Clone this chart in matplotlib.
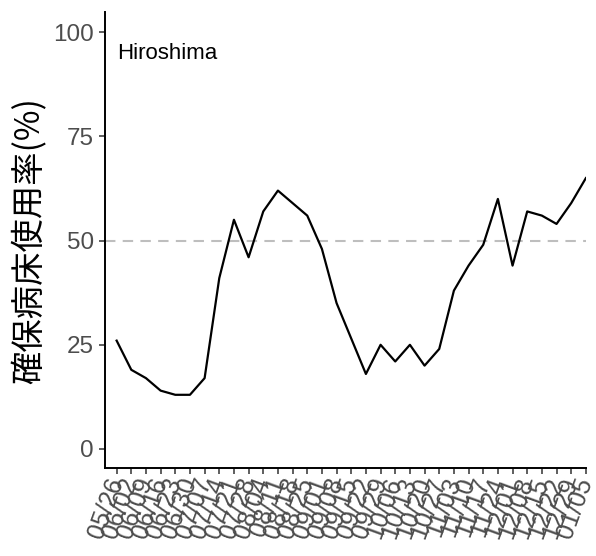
import matplotlib
matplotlib.use("Agg")
import matplotlib.pyplot as plt

# weekly dates and bed occupancy (%) for Hiroshima
fechas = ['05/26', '06/02', '06/09', '06/16', '06/23', '06/30', '07/07', '07/14',
          '07/21', '07/28', '08/04', '08/11', '08/18', '08/25', '09/01', '09/08',
          '09/15', '09/22', '09/29', '10/06', '10/13', '10/20', '10/27', '11/03',
          '11/10', '11/17', '11/24', '12/01', '12/08', '12/15', '12/22', '12/29',
          '01/05']
ocupacion = [26, 19, 17, 14, 13, 13, 17, 41, 55, 46, 57, 62, 59, 56, 48, 35,
             26.5, 18, 25, 21, 25, 20, 24, 38, 44, 49, 60, 44, 57, 56, 54, 59, 65]
umbral = 50
yticks = [0, 25, 50, 75, 100]

plt.rcParams['font.family'] = ['Liberation Sans', 'DejaVu Sans']

fig = plt.figure(figsize=(5.96, 5.56), dpi=100)
ax = fig.add_axes([0.176, 0.158, 0.807, 0.820])

x = list(range(len(ocupacion)))
ax.axhline(umbral, color='#BEBEBE', linestyle=(0, (5, 3.5)), linewidth=1.5, zorder=1)
ax.plot(x, ocupacion, color='black', linewidth=1.6, zorder=2)

ax.set_xlim(-0.8, 32.0)
ax.set_ylim(-4.6, 104.8)
ax.set_xticks(x)
ax.set_xticklabels(fechas, rotation=70, ha='right', va='center',
                   rotation_mode='anchor', fontsize=18, color='#4D4D4D')
ax.set_yticks(yticks)
ax.set_yticklabels([str(v) for v in yticks], fontsize=17.5, color='#4D4D4D')
ax.tick_params(axis='both', length=4.5, width=1.1, color='#333333')
ax.tick_params(axis='x', pad=3)

for lado in ['top', 'right']:
    ax.spines[lado].set_visible(False)
for lado in ['left', 'bottom']:
    ax.spines[lado].set_linewidth(1.4)
    ax.spines[lado].set_color('black')

ax.set_ylabel('確保病床使用率(%)', fontsize=24,
              family=['Noto Sans CJK JP', 'DejaVu Sans'], labelpad=4)
ax.text(0.025, 0.91, 'Hiroshima', transform=ax.transAxes, fontsize=16,
        ha='left', va='center')

fig.savefig('out.png', dpi=100)
